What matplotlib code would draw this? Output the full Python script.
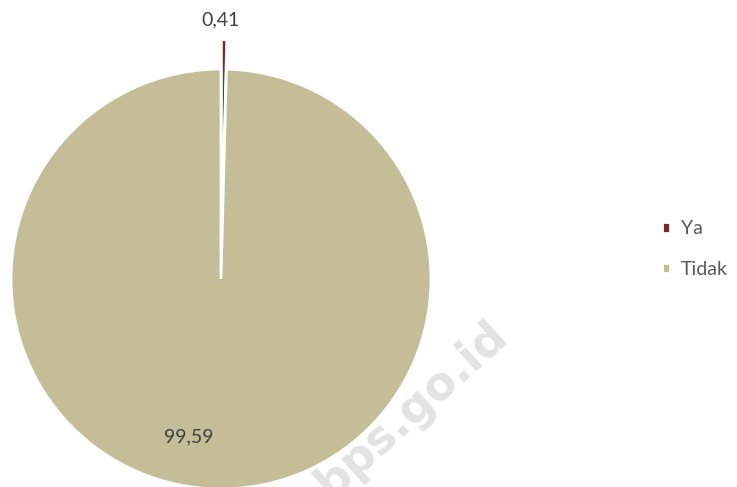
import matplotlib
matplotlib.use('Agg')
import matplotlib.pyplot as plt

plt.rcParams['font.family'] = ['Lato', 'DejaVu Sans']

# Data
categories = ['Ya', 'Tidak']
values = [0.41, 99.59]
value_labels = ['0,41', '99,59']
colors = ['#772c2a', '#c4bd97']

fig = plt.figure(figsize=(7.37, 4.87), dpi=100)

# watermark behind everything
fig.text(412 / 737, 1 - 410 / 487, 'bps.go.id', rotation=42, ha='center', va='center',
         fontsize=33, fontweight='bold', color='#e3e3e3', family='DejaVu Sans', zorder=0)

ax = fig.add_axes([11 / 737, -2 / 487, 420 / 737, 420 / 487])
ax.set_facecolor('none')
wedges, _ = ax.pie(values, colors=colors, startangle=90, counterclock=False,
                   explode=[0.14, 0], wedgeprops=dict(edgecolor='white', linewidth=2))
for w in wedges:
    w.set_clip_on(False)
ax.set_xlim(-1, 1)
ax.set_ylim(-1, 1)
ax.axis('off')

# data labels
ax.text(0.0, 1.235, value_labels[0], ha='center', va='center', fontsize=14, color='#404040')
ax.text(-0.155, -0.752, value_labels[1], ha='center', va='center', fontsize=14, color='#404040')

fig.legend(wedges, categories, loc='center left', bbox_to_anchor=(644 / 737, 1 - 249 / 487),
           frameon=False, fontsize=14, handlelength=0.45, handleheight=0.45,
           handletextpad=0.55, labelspacing=1.2, labelcolor='#595959')

fig.savefig('out.png', dpi=100)
